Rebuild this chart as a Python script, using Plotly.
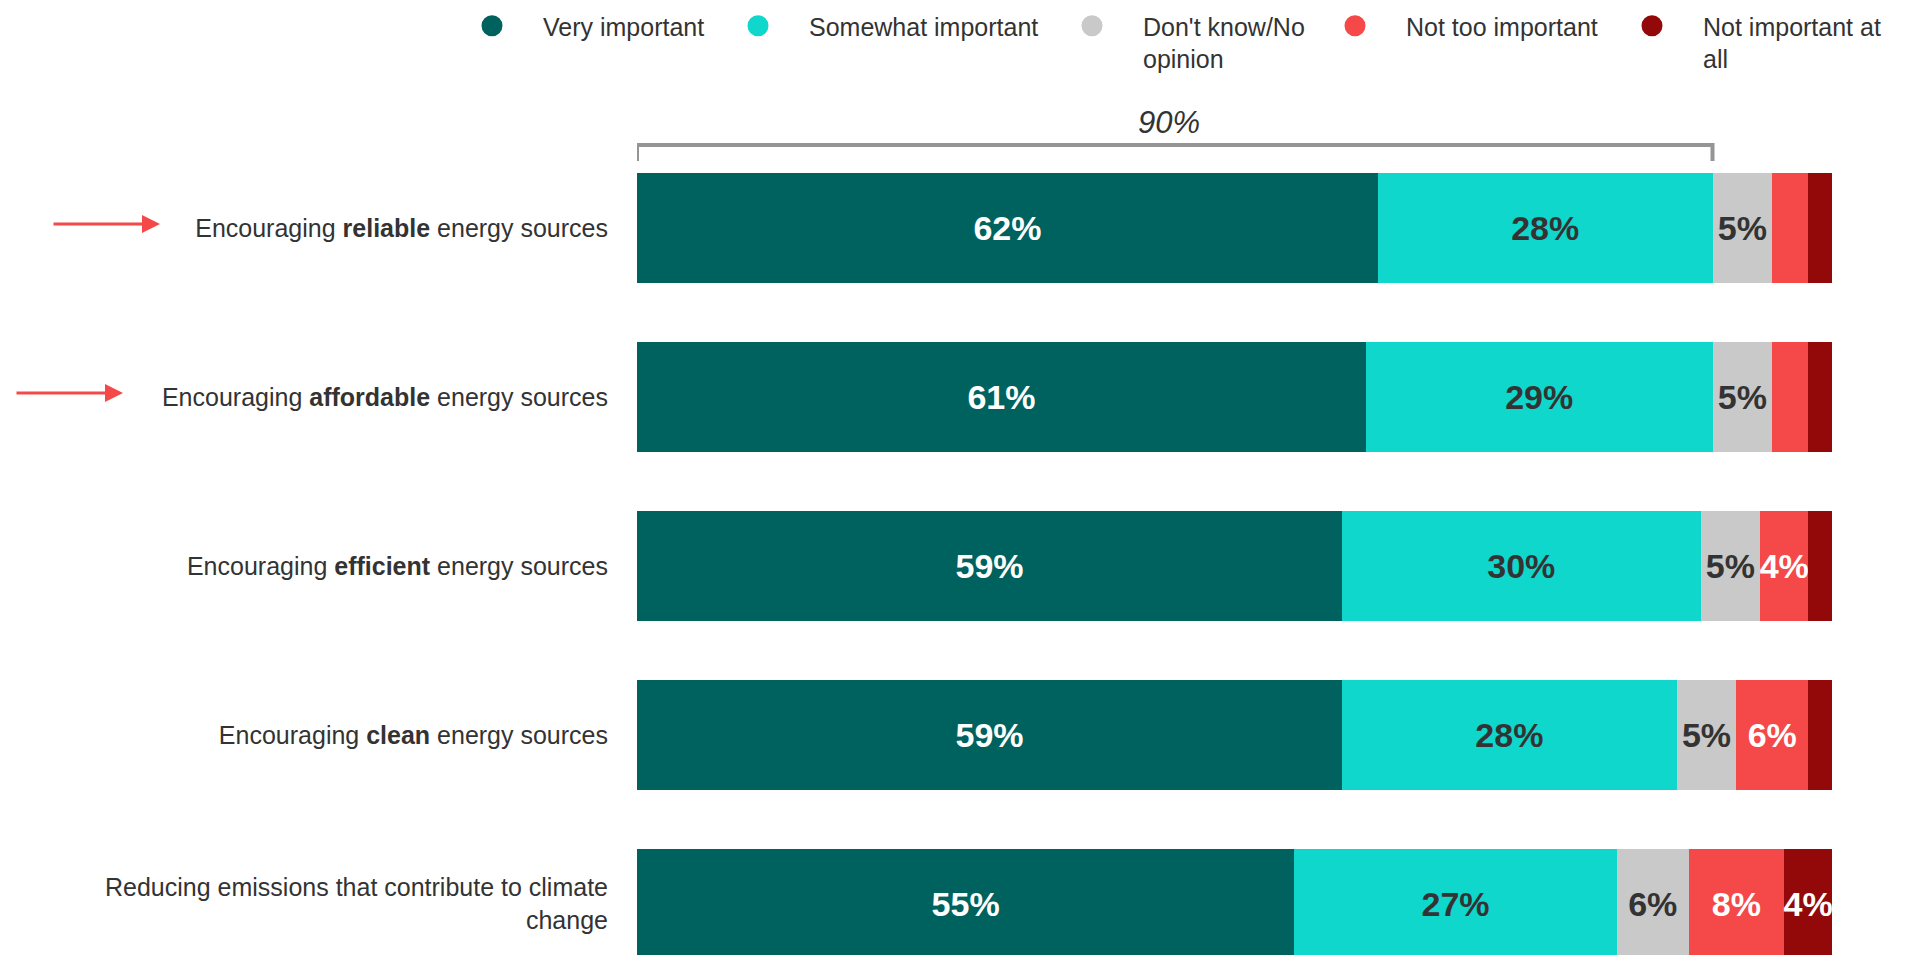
import plotly.graph_objects as go

# ---------------- data ----------------
categories = [
    "Encouraging <b>reliable</b> energy sources",
    "Encouraging <b>affordable</b> energy sources",
    "Encouraging <b>efficient</b> energy sources",
    "Encouraging <b>clean</b> energy sources",
    "Reducing emissions that contribute to climate<br>change",
]
series_names = [
    "Very important",
    "Somewhat important",
    "Don't know/No<br>opinion",
    "Not too important",
    "Not important at<br>all",
]
very_important = [62, 61, 59, 59, 55]
somewhat_important = [28, 29, 30, 28, 27]
dont_know = [5, 5, 5, 5, 6]
not_too_important = [3, 3, 4, 6, 8]
not_important_at_all = [2, 2, 2, 2, 4]
highlighted_rows = [0, 1]
label_threshold = 4

# ---------------- styles ----------------
FONT = "Liberation Sans, Arial, Helvetica, sans-serif"
TXT = "#333333"
colors = ["#00625F", "#0FD7CC", "#C9C9C9", "#F54848", "#930909"]
label_colors = ["#FFFFFF", TXT, TXT, "#FFFFFF", "#FFFFFF"]

W, H = 1910, 955
ML, MR = 637, 78
PW = W - ML - MR

def px_to_paper_x(px):
    return (px - ML) / PW

series_values = [very_important, somewhat_important, dont_know,
                 not_too_important, not_important_at_all]

fig = go.Figure()
for i, (name, vals) in enumerate(zip(series_names, series_values)):
    fig.add_trace(go.Bar(
        y=categories, x=vals, orientation="h", name=name,
        marker=dict(color=colors[i], line=dict(width=0)),
        text=[f"{v}%" if v >= label_threshold else "" for v in vals],
        texttemplate="%{text}",
        textposition="inside", insidetextanchor="middle", textangle=0,
        constraintext="none",
        insidetextfont=dict(family=FONT, size=34, color=label_colors[i], weight="bold"),
        showlegend=False, hoverinfo="skip",
    ))

# legend entries (circles), one legend per entry to match the free layout
legend_text_px = [545, 811, 1145, 1408, 1705]
ITEMW = 92
for i, name in enumerate(series_names):
    key = "legend" if i == 0 else f"legend{i+1}"
    fig.add_trace(go.Scatter(
        x=[None], y=[None], mode="markers", name=name,
        marker=dict(symbol="circle", size=16, color=colors[i],
                    line=dict(width=5, color=colors[i])),
        legend=key, showlegend=True, hoverinfo="skip",
    ))
    fig.layout[key] = dict(
        x=px_to_paper_x(legend_text_px[i] - (ITEMW + 10) - 2), xanchor="left",
        y=1.0 - 3 / H, yanchor="top", orientation="h", itemwidth=ITEMW,
        font=dict(family=FONT, size=25, color=TXT), valign="top",
        bgcolor="rgba(0,0,0,0)", borderwidth=0,
        itemclick=False, itemdoubleclick=False,
    )

# bracket over the first row
bracket_total = very_important[0] + somewhat_important[0]
y_top, y_bot = -0.491, -0.396
fig.add_shape(type="path",
              path=f"M 0,{y_bot} L 0,{y_top} L {bracket_total},{y_top} L {bracket_total},{y_bot}",
              xref="x", yref="y", line=dict(color="#959595", width=4))
fig.add_annotation(x=bracket_total / 2, y=-0.625, xref="x", yref="y", xshift=-6,
                   text=f"<i>{bracket_total}%</i>", showarrow=False,
                   font=dict(family=FONT, size=31, color=TXT))

# arrows pointing at highlighted rows
arrow_heads_px = [160, 123]
for r, hx in zip(highlighted_rows, arrow_heads_px):
    fig.add_annotation(x=px_to_paper_x(hx), y=categories[r], xref="paper", yref="y",
                       ax=-108, ay=0, yshift=4, showarrow=True, arrowhead=2, arrowsize=1.2,
                       arrowwidth=3, arrowcolor="#F54848", text="")

fig.update_layout(
    width=W, height=H, barmode="stack", bargap=0.349,
    margin=dict(l=ML, r=MR, t=0, b=0, pad=0),
    paper_bgcolor="white", plot_bgcolor="white",
    font=dict(family=FONT, color=TXT),
    uniformtext=dict(minsize=34, mode="show"),
    xaxis=dict(range=[0, 100], visible=False, fixedrange=True),
    yaxis=dict(type="category", range=[4.302, -1.349], showgrid=False, zeroline=False,
               showline=False, ticks="", ticklabelstandoff=28,
               tickfont=dict(family=FONT, size=25, color=TXT), fixedrange=True),
)

fig.write_html("out.html", config={"displayModeBar": False},
               post_script="document.body.style.margin='0';document.body.style.overflow='hidden';")
